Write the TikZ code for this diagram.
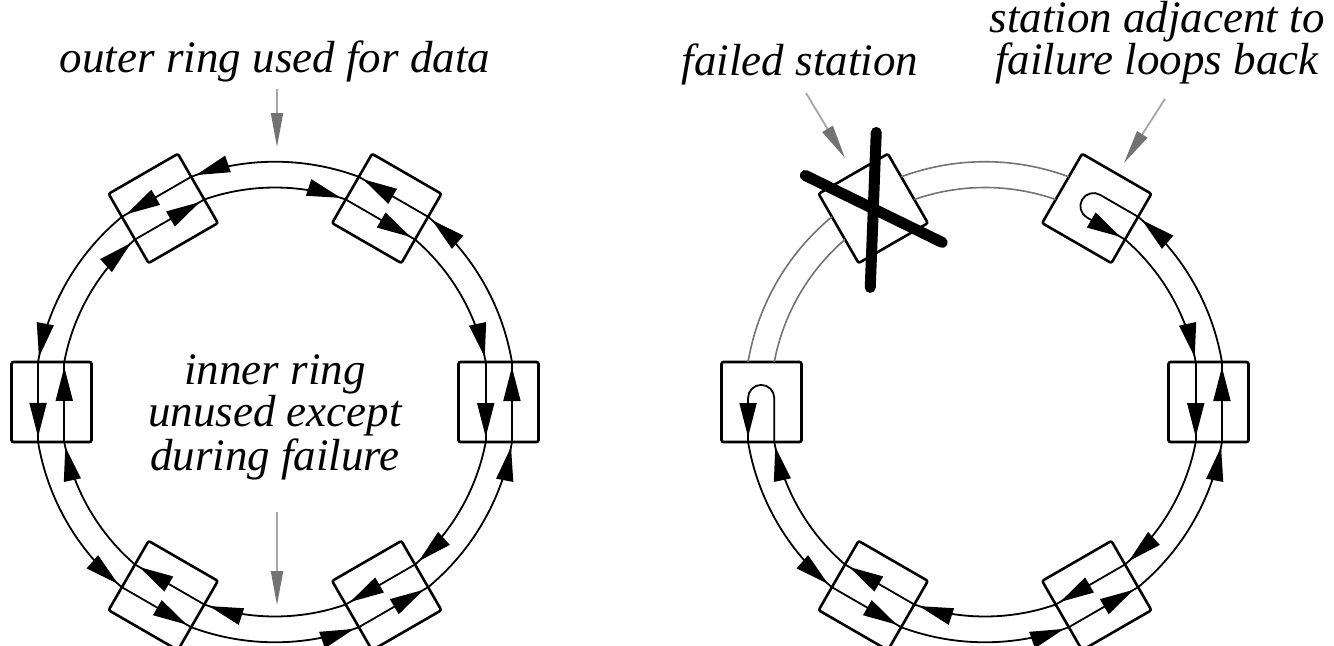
\documentclass[tikz,border=0pt]{standalone}
\usepackage{fontspec}
\setmainfont{Liberation Serif}
\usetikzlibrary{arrows.meta,decorations.markings,calc}
\begin{document}
\begin{tikzpicture}[x=0.5pt,y=0.5pt]
\tikzset{
  ringtip/.tip={Triangle[length=17pt,width=8.5pt]},
  ringline/.style={line width=0.9pt},
  arrowed/.style={ringline, postaction={decorate},
    decoration={markings, mark=at position -2.5pt with {\arrow{ringtip}}}},
  brokenline/.style={line width=0.8pt, draw=black!55},
  stationbox/.style={draw, line width=1.3pt, minimum size=40pt, inner sep=0pt, rounded corners=1pt},
  pointer/.style={draw=black!35, line width=0.9pt, -{Triangle[length=17pt,width=6pt,color=black!55]}},
  notetext/.style={font=\fontsize{22.5}{21}\selectfont\itshape, align=center, inner sep=1pt},
  failmark/.style={line width=5.5pt, line cap=round},
}
\def\Rs{223.5}\def\Ro{240.3}\def\Ri{214.5}\def\Do{9.58}\def\Di{10.75}
\useasboundingbox (0,0) rectangle (1334,645);
\clip (0,0) rectangle (1334,645);

% ---------------- left ring (normal operation)
\begin{scope}[shift={(275,243)}]
  \foreach \t in {0,60,...,300}{
    \node[stationbox, rotate=\t-90] (L\t) at (\t:\Rs) {};
    \draw[arrowed] (\t-\Do:\Ro) -- (\t+\Do:\Ro);
    \draw[arrowed] (\t+\Do:\Ro) arc[start angle=\t+\Do, end angle=\t+60-\Do, radius=\Ro];
    \draw[arrowed] (\t+\Di:\Ri) -- (\t-\Di:\Ri);
    \draw[arrowed] (\t-\Di:\Ri) arc[start angle=\t-\Di, end angle=\t-60+\Di, radius=\Ri];
  }
\end{scope}

% ---------------- right ring (failure)
\begin{scope}[shift={(985,243)}]
  \foreach \t in {0,60,...,300}{
    \node[stationbox, rotate=\t-90] (R\t) at (\t:\Rs) {};
  }
  \foreach \t in {0,240,300}{
    \draw[arrowed] (\t-\Do:\Ro) -- (\t+\Do:\Ro);
    \draw[arrowed] (\t+\Di:\Ri) -- (\t-\Di:\Ri);
  }
  \foreach \t in {180,240,300,0}{
    \draw[arrowed] (\t+\Do:\Ro) arc[start angle=\t+\Do, end angle=\t+60-\Do, radius=\Ro];
  }
  \foreach \t in {60,0,300,240}{
    \draw[arrowed] (\t-\Di:\Ri) arc[start angle=\t-\Di, end angle=\t-60+\Di, radius=\Ri];
  }
  \foreach \t in {60,120}{
    \draw[brokenline] (\t+\Do:\Ro) arc[start angle=\t+\Do, end angle=\t+60-\Do, radius=\Ro];
    \draw[brokenline] (\t+\Di:\Ri) arc[start angle=\t+\Di, end angle=\t+60-\Di, radius=\Ri];
  }
  \begin{scope}[shift={(180:\Rs)}, rotate=90]
    \draw[arrowed] (-40,-12.76) -- (4,-12.76) arc[start angle=-90, end angle=90, radius=13.1] -- (-40,13.45);
  \end{scope}
  \begin{scope}[shift={(60:\Rs)}, rotate=-30]
    \draw[arrowed] (40,13.45) -- (-4,13.45) arc[start angle=90, end angle=270, radius=13.1] -- (40,-12.76);
  \end{scope}
\end{scope}

% failed station cross
\draw[failmark] ($(R120)+(3,76)$) -- ($(R120)+(-3,-79)$);
\draw[failmark] ($(R120)+(-68,33)$) -- ($(R120)+(69,-34)$);

% ---------------- labels and pointers
\node[notetext, anchor=base] (t1) at (275,573) {outer ring used for data};
\coordinate (p1) at (277,498);
\draw[pointer] (p1 |- t1.south) ++(0,-5) -- (p1);

\node[notetext, font=\fontsize{22.5}{17.5}\selectfont\itshape] (t2) at (275,228) {inner ring\\unused except\\during failure};
\coordinate (p2) at (277,40);
\draw[pointer] (p2 |- t2.south) ++(0,-30) -- (p2);

\node[notetext, anchor=base] (t3) at (800,570) {failed station};
\coordinate (p3) at (845,487);
\draw[pointer] (t3.south) ++(6,-6) -- (p3);

\node[notetext] (t4) at (1157,602) {station adjacent to\\failure loops back};
\coordinate (p4) at (1124,482);
\draw[pointer] (t4.south) ++(8,-12) -- (p4);
\end{tikzpicture}
\end{document}
